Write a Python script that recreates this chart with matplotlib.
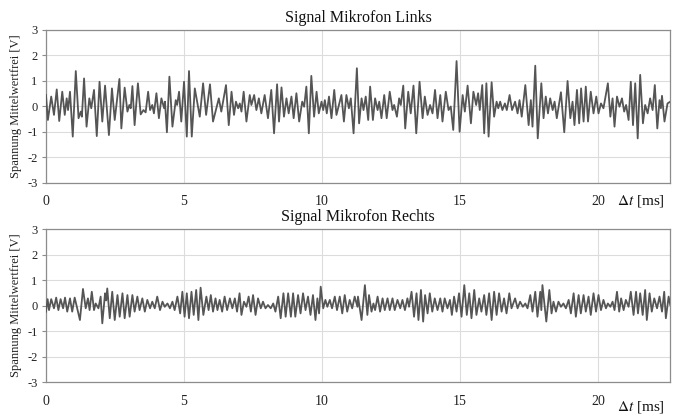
import numpy as np
import matplotlib
matplotlib.use('Agg')
import matplotlib.pyplot as plt

# Extrema of the signals (time in ms, voltage in V)
t_links = [0.0, 0.07, 0.19, 0.29, 0.39, 0.48, 0.59, 0.68, 0.75, 0.80,
           0.87, 0.97, 1.08, 1.18, 1.26, 1.30, 1.38, 1.47, 1.57, 1.64,
           1.74, 1.84, 1.94, 2.04, 2.14, 2.28, 2.39, 2.49, 2.66, 2.73,
           2.85, 2.95, 3.02, 3.07, 3.13, 3.21, 3.33, 3.43, 3.53, 3.61,
           3.70, 3.77, 3.85, 3.91, 4.00, 4.09, 4.18, 4.28, 4.31, 4.38,
           4.47, 4.58, 4.70, 4.75, 4.82, 4.90, 5.00, 5.10, 5.18, 5.28,
           5.39,
           5.57, 5.69, 5.80, 5.94, 6.05, 6.26, 6.35, 6.52, 6.62, 6.72,
           6.81, 6.88, 6.96, 7.02, 7.08, 7.16, 7.26, 7.38, 7.44, 7.54,
           7.62, 7.71, 7.80, 7.92, 8.04, 8.16, 8.26, 8.37, 8.44, 8.53,
           8.62, 8.71, 8.79, 8.89, 8.97, 9.07, 9.17, 9.28, 9.35, 9.43,
           9.52, 9.61, 9.71, 9.80, 9.88, 9.98, 10.04, 10.10, 10.17, 10.25,
           10.34, 10.44, 10.52, 10.70, 10.79, 10.88, 10.97, 11.04, 11.14,
           11.26, 11.34, 11.43, 11.50, 11.58, 11.67, 11.74, 11.84, 11.92, 12.01,
           12.07, 12.15, 12.25, 12.34, 12.45, 12.55, 12.61, 12.71, 12.79, 12.85,
           12.94, 13.01, 13.12, 13.21, 13.31, 13.41, 13.53, 13.64, 13.72, 13.82,
           13.91, 14.00, 14.09, 14.18, 14.28, 14.36, 14.48, 14.58, 14.66, 14.75,
           14.87, 14.98, 15.09, 15.17, 15.27, 15.39, 15.48, 15.58, 15.65, 15.71,
           15.80, 15.87, 15.95, 16.03, 16.14, 16.23, 16.32, 16.38, 16.45, 16.53,
           16.62, 16.69, 16.79, 16.88,
           16.99, 17.08, 17.15, 17.23, 17.36, 17.48, 17.56, 17.62, 17.72, 17.81,
           17.94, 18.02, 18.10, 18.18, 18.26, 18.35, 18.42, 18.50, 18.65, 18.77,
           18.89, 18.99, 19.07, 19.14, 19.23, 19.31, 19.38, 19.47, 19.55, 19.63,
           19.73, 19.83, 19.93, 20.01, 20.10, 20.19, 20.35, 20.44, 20.52, 20.59,
           20.68, 20.77, 20.86, 20.94, 21.01, 21.10, 21.18, 21.26, 21.34, 21.43,
           21.52, 21.62, 21.70, 21.79, 21.88, 21.97, 22.05, 22.14, 22.22, 22.27,
           22.31, 22.40, 22.51, 22.61]
u_links = [0.45, -0.53, 0.39, -0.33, 0.67, -0.57, 0.58, -0.33, 0.32, -0.14,
           0.58, -1.18, 1.39, -0.46, -0.20, -0.40, 1.10, -0.79, 0.32, -0.07,
           0.65, -1.16, 0.97, -0.59, 0.82, -1.12, 0.71, -0.53, 1.08, -0.86,
           0.74, -0.20, 0.06, -0.07, 0.80, -0.73, 0.91, -0.31, -0.14, -0.23,
           0.58, -0.14, 0.06, -0.27, 0.52, -0.46, 0.32, -0.07, 0.19, -1.01,
           1.17, -0.79, 0.25, 0.06, 0.58, -0.59, 0.97, -1.18, 1.39, -1.18,
           0.71,
           -0.40, 0.91, -0.33, 0.87, -0.59, 0.32, -0.20, 0.84, -0.73, 0.58,
           -0.33, 0.19, -0.07, 0.12, -0.20, 0.58, -0.59, 0.45, 0.06, 0.45,
           -0.14, 0.32, -0.27, 0.45, -0.46, 0.65, -1.05, 0.87, -0.59, 0.75,
           -0.40, 0.32, -0.27, 0.39, -0.46, 0.52, -0.59, 0.19, -0.01, 0.78,
           -1.05, 1.20, -0.40, 0.58, -0.27, 0.19, -0.14, 0.25, -0.27, 0.39,
           -0.46, 0.65, -0.33, 0.45, -0.59, 0.45, -0.07, 0.32, -1.05,
           1.50, -0.66, 0.32, -0.14, 0.39, -0.53, 0.78, -0.53, 0.32, -0.14,
           0.19, -0.46, 0.45, -0.46, 0.58, -0.14, 0.06, -0.40, 0.32, 0.06,
           0.82, -0.86, 0.58, -0.27, 0.82, -1.05, 0.97, -0.46, 0.39, -0.33,
           0.06, -0.27, 0.65, -0.46, 0.45, -0.59, 0.58, -0.14, 0.0, -0.92,
           1.78, -0.99, 0.45, -0.20, 0.82, -0.66, 0.58, 0.06, 0.52, -0.14,
           0.84, -1.05, 0.91, -1.18, 0.95, -0.40, 0.19, -0.07, 0.19, -0.14,
           0.12, -0.14, 0.45, -0.14,
           0.19, -0.27, 0.25, -0.40, 0.84, -0.73, 0.25, -0.79, 1.60, -1.25,
           0.91, -0.46, 0.39, -0.27, 0.32, -0.14, 0.19, -0.46, 0.56, -1.01,
           1.00, -0.46, 0.19, -0.73, 0.65, -0.66, 0.71, -0.59, 0.78, -0.59,
           0.58, -0.27, 0.39, -0.27, 0.12, -0.07, 0.91, -0.40, 0.32, -0.79,
           0.39, -0.01, 0.32, -0.20, 0.06, -0.53, 0.97, -0.73, 0.91, -1.25,
           1.24, -0.66, 0.06, -0.27, 0.32, -0.14, 0.84, -0.86, 0.25, -0.07,
           0.42, -0.59, 0.12, 0.19]

t_rechts = [0.0, 0.06, 0.11, 0.19, 0.29, 0.37, 0.45, 0.53, 0.62, 0.69,
            0.77, 0.87, 0.95, 1.04, 1.23, 1.34, 1.44, 1.52, 1.58, 1.66,
            1.74, 1.80, 1.90, 1.98, 2.04, 2.14, 2.18, 2.22, 2.31, 2.40,
            2.49, 2.59, 2.67, 2.77, 2.85, 2.95, 3.03, 3.13, 3.21, 3.31,
            3.39, 3.49, 3.58, 3.67, 3.77, 3.85, 3.94, 4.03, 4.13, 4.22,
            4.30, 4.40, 4.49, 4.58, 4.66, 4.76, 4.86, 4.94, 5.02, 5.10,
            5.18, 5.27, 5.35, 5.44, 5.52, 5.60, 5.70,
            5.81, 5.89, 5.97, 6.05, 6.14, 6.21, 6.29, 6.38, 6.47, 6.56,
            6.66, 6.75, 6.84, 6.92, 7.01, 7.08, 7.17, 7.26, 7.34, 7.42,
            7.50, 7.59, 7.68, 7.78, 7.86, 7.95, 8.04, 8.14, 8.23, 8.31,
            8.41, 8.50, 8.60, 8.68, 8.77, 8.87, 8.95, 9.03, 9.13, 9.22,
            9.31, 9.40, 9.49, 9.58, 9.67, 9.76, 9.83, 9.89, 9.95, 10.04,
            10.12, 10.19, 10.28, 10.36, 10.46, 10.54, 10.64, 10.73, 10.82, 10.91,
            11.00, 11.09, 11.18, 11.28,
            11.30, 11.43, 11.55, 11.64, 11.70, 11.79, 11.86, 11.92, 12.01, 12.10,
            12.19, 12.27, 12.37, 12.45, 12.55, 12.63, 12.73, 12.83, 12.91, 13.00,
            13.09, 13.15, 13.24, 13.33, 13.42, 13.49, 13.58, 13.66, 13.73, 13.82,
            13.90, 13.99, 14.08, 14.18, 14.28, 14.36, 14.44, 14.54, 14.63, 14.70,
            14.78, 14.87, 14.96, 15.05, 15.15, 15.24, 15.33, 15.41, 15.51, 15.59,
            15.69, 15.77, 15.87, 15.95, 16.05, 16.14, 16.23, 16.32, 16.41, 16.50,
            16.59, 16.68, 16.78, 16.86,
            16.99, 17.08, 17.17, 17.27, 17.36, 17.44, 17.54, 17.62, 17.72, 17.80,
            17.90, 17.94, 17.98, 18.12, 18.23, 18.31, 18.38, 18.47, 18.56, 18.65,
            18.74, 18.83, 18.93, 19.01, 19.11, 19.19, 19.29, 19.37, 19.47, 19.55,
            19.65, 19.73, 19.83, 19.92, 20.01, 20.10, 20.19, 20.28, 20.35, 20.44,
            20.52, 20.59, 20.68, 20.76, 20.83, 20.92, 21.00, 21.10, 21.18, 21.28,
            21.37, 21.44, 21.52, 21.61, 21.70, 21.76, 21.86, 21.94, 22.03, 22.13,
            22.22, 22.31, 22.39, 22.45, 22.55, 22.61]
u_rechts = [-0.24, 0.25, -0.18, 0.25, -0.11, 0.31, -0.18, 0.25, -0.11, 0.31,
            -0.24, 0.28, -0.24, 0.31, -0.57, 0.65, -0.11, 0.28, -0.18, 0.54,
            -0.18, 0.08, -0.11, 0.35, -0.70, 0.48, 0.20, 0.67, -0.50, 0.54,
            -0.57, 0.41, -0.44, 0.48, -0.50, 0.41, -0.44, 0.41, -0.24, 0.35,
            -0.18, 0.28, -0.24, 0.22, -0.11, 0.15, -0.11, 0.35, -0.18, 0.15,
            -0.05, 0.08, -0.11, 0.15, -0.18, 0.35, -0.31, 0.54, -0.44, 0.48,
            -0.50, 0.54, -0.37, 0.61, -0.57, 0.70, -0.37,
            0.35, -0.18, 0.41, -0.24, 0.28, -0.18, 0.22, -0.24, 0.35, -0.18,
            0.28, -0.11, 0.28, -0.24, 0.48, -0.37, 0.15, -0.05, 0.35, -0.24,
            0.41, -0.37, 0.28, -0.11, 0.15, -0.11, 0.02, -0.11, 0.08, -0.24,
            0.35, -0.50, 0.48, -0.44, 0.48, -0.44, 0.48, -0.44, 0.41, -0.31,
            0.48, -0.18, 0.35, -0.37, 0.41, -0.57, 0.28, -0.31, 0.74, -0.11,
            0.22, -0.05, 0.22, -0.11, 0.35, -0.18, 0.35, -0.31, 0.41, -0.24,
            0.22, -0.11, 0.35, -0.05,
            0.35, -0.57, 0.80, -0.37, 0.41, -0.24, 0.08, -0.18, 0.35, -0.24,
            0.28, -0.18, 0.28, -0.18, 0.28, -0.18, 0.22, -0.11, 0.22, -0.18,
            0.28, -0.05, 0.54, -0.44, 0.48, -0.57, 0.61, -0.63, 0.41, -0.31,
            0.48, -0.24, 0.28, -0.18, 0.28, -0.24, 0.28, -0.11, 0.22, -0.37,
            0.35, -0.24, 0.48, -0.44, 0.80, -0.37, 0.48, -0.50, 0.61, -0.37,
            0.28, -0.24, 0.41, -0.37, 0.48, -0.57, 0.54, -0.37, 0.48, -0.24,
            0.28, -0.31, 0.48, -0.11,
            0.28, -0.11, 0.15, -0.05, 0.08, -0.11, 0.41, -0.24, 0.54, -0.44,
            0.54, -0.18, 0.80, -0.63, 0.61, -0.31, 0.15, -0.24, 0.15, -0.05,
            0.08, -0.11, 0.22, -0.31, 0.48, -0.44, 0.41, -0.31, 0.41, -0.24,
            0.35, -0.37, 0.48, -0.24, 0.41, -0.18, 0.22, -0.11, 0.08, -0.05,
            0.15, -0.18, 0.54, -0.24, 0.28, -0.18, 0.22, -0.05, 0.54, -0.37,
            0.54, -0.31, 0.48, -0.37, 0.61, -0.57, 0.48, -0.24, 0.28, -0.11,
            0.35, -0.24, 0.54, -0.50, 0.35, 0.02]

titles = ['Signal Mikrofon Links', 'Signal Mikrofon Rechts']
x_ticks = [0, 5, 10, 15, 20]
y_ticks = [-3, -2, -1, 0, 1, 2, 3]

assert len(t_links) == len(u_links)
assert len(t_rechts) == len(u_rechts)

plt.rcParams['font.family'] = ['Liberation Serif', 'DejaVu Serif']
plt.rcParams['mathtext.fontset'] = 'stix'
plt.rcParams['axes.unicode_minus'] = False

fig = plt.figure(figsize=(6.75, 4.16), dpi=100)
ax_top = fig.add_axes([0.0681, 0.5601, 0.9245, 0.3678])
ax_bot = fig.add_axes([0.0681, 0.0817, 0.9245, 0.3678])

signals = [(t_links, u_links), (t_rechts, u_rechts)]
label_y = [-0.115, -0.165]

for ax, (t, u), title, ly in zip([ax_top, ax_bot], signals, titles, label_y):
    ax.plot(t, u, color='#555555', lw=1.3, solid_joinstyle='round', zorder=3)
    ax.set_xlim(0, 22.6)
    ax.set_ylim(-3, 3)
    ax.set_xticks(x_ticks)
    ax.set_yticks(y_ticks)
    ax.grid(True, color='#dcdcdc', lw=0.8, zorder=0)
    ax.set_axisbelow(True)
    for s in ax.spines.values():
        s.set_color('#8c8c8c')
        s.set_linewidth(0.9)
    ax.tick_params(axis='x', length=0, pad=9, labelsize=10, colors='#222222')
    ax.tick_params(axis='y', length=3, width=0.8, color='#8c8c8c', pad=3,
                   labelsize=9, labelcolor='#222222')
    ax.set_title(title, fontsize=11.5, pad=6, color='#111111')
    ax.set_ylabel('Spannung Mittelwertfrei [V]', fontsize=9, labelpad=4, color='#222222')
    # time axis label sits at the right end, next to the last tick
    ax.text(0.915, ly, r'$\Delta t$ [ms]', transform=ax.transAxes,
            fontsize=11, ha='left', va='center', color='#111111')

plt.savefig('out.png', dpi=100)
